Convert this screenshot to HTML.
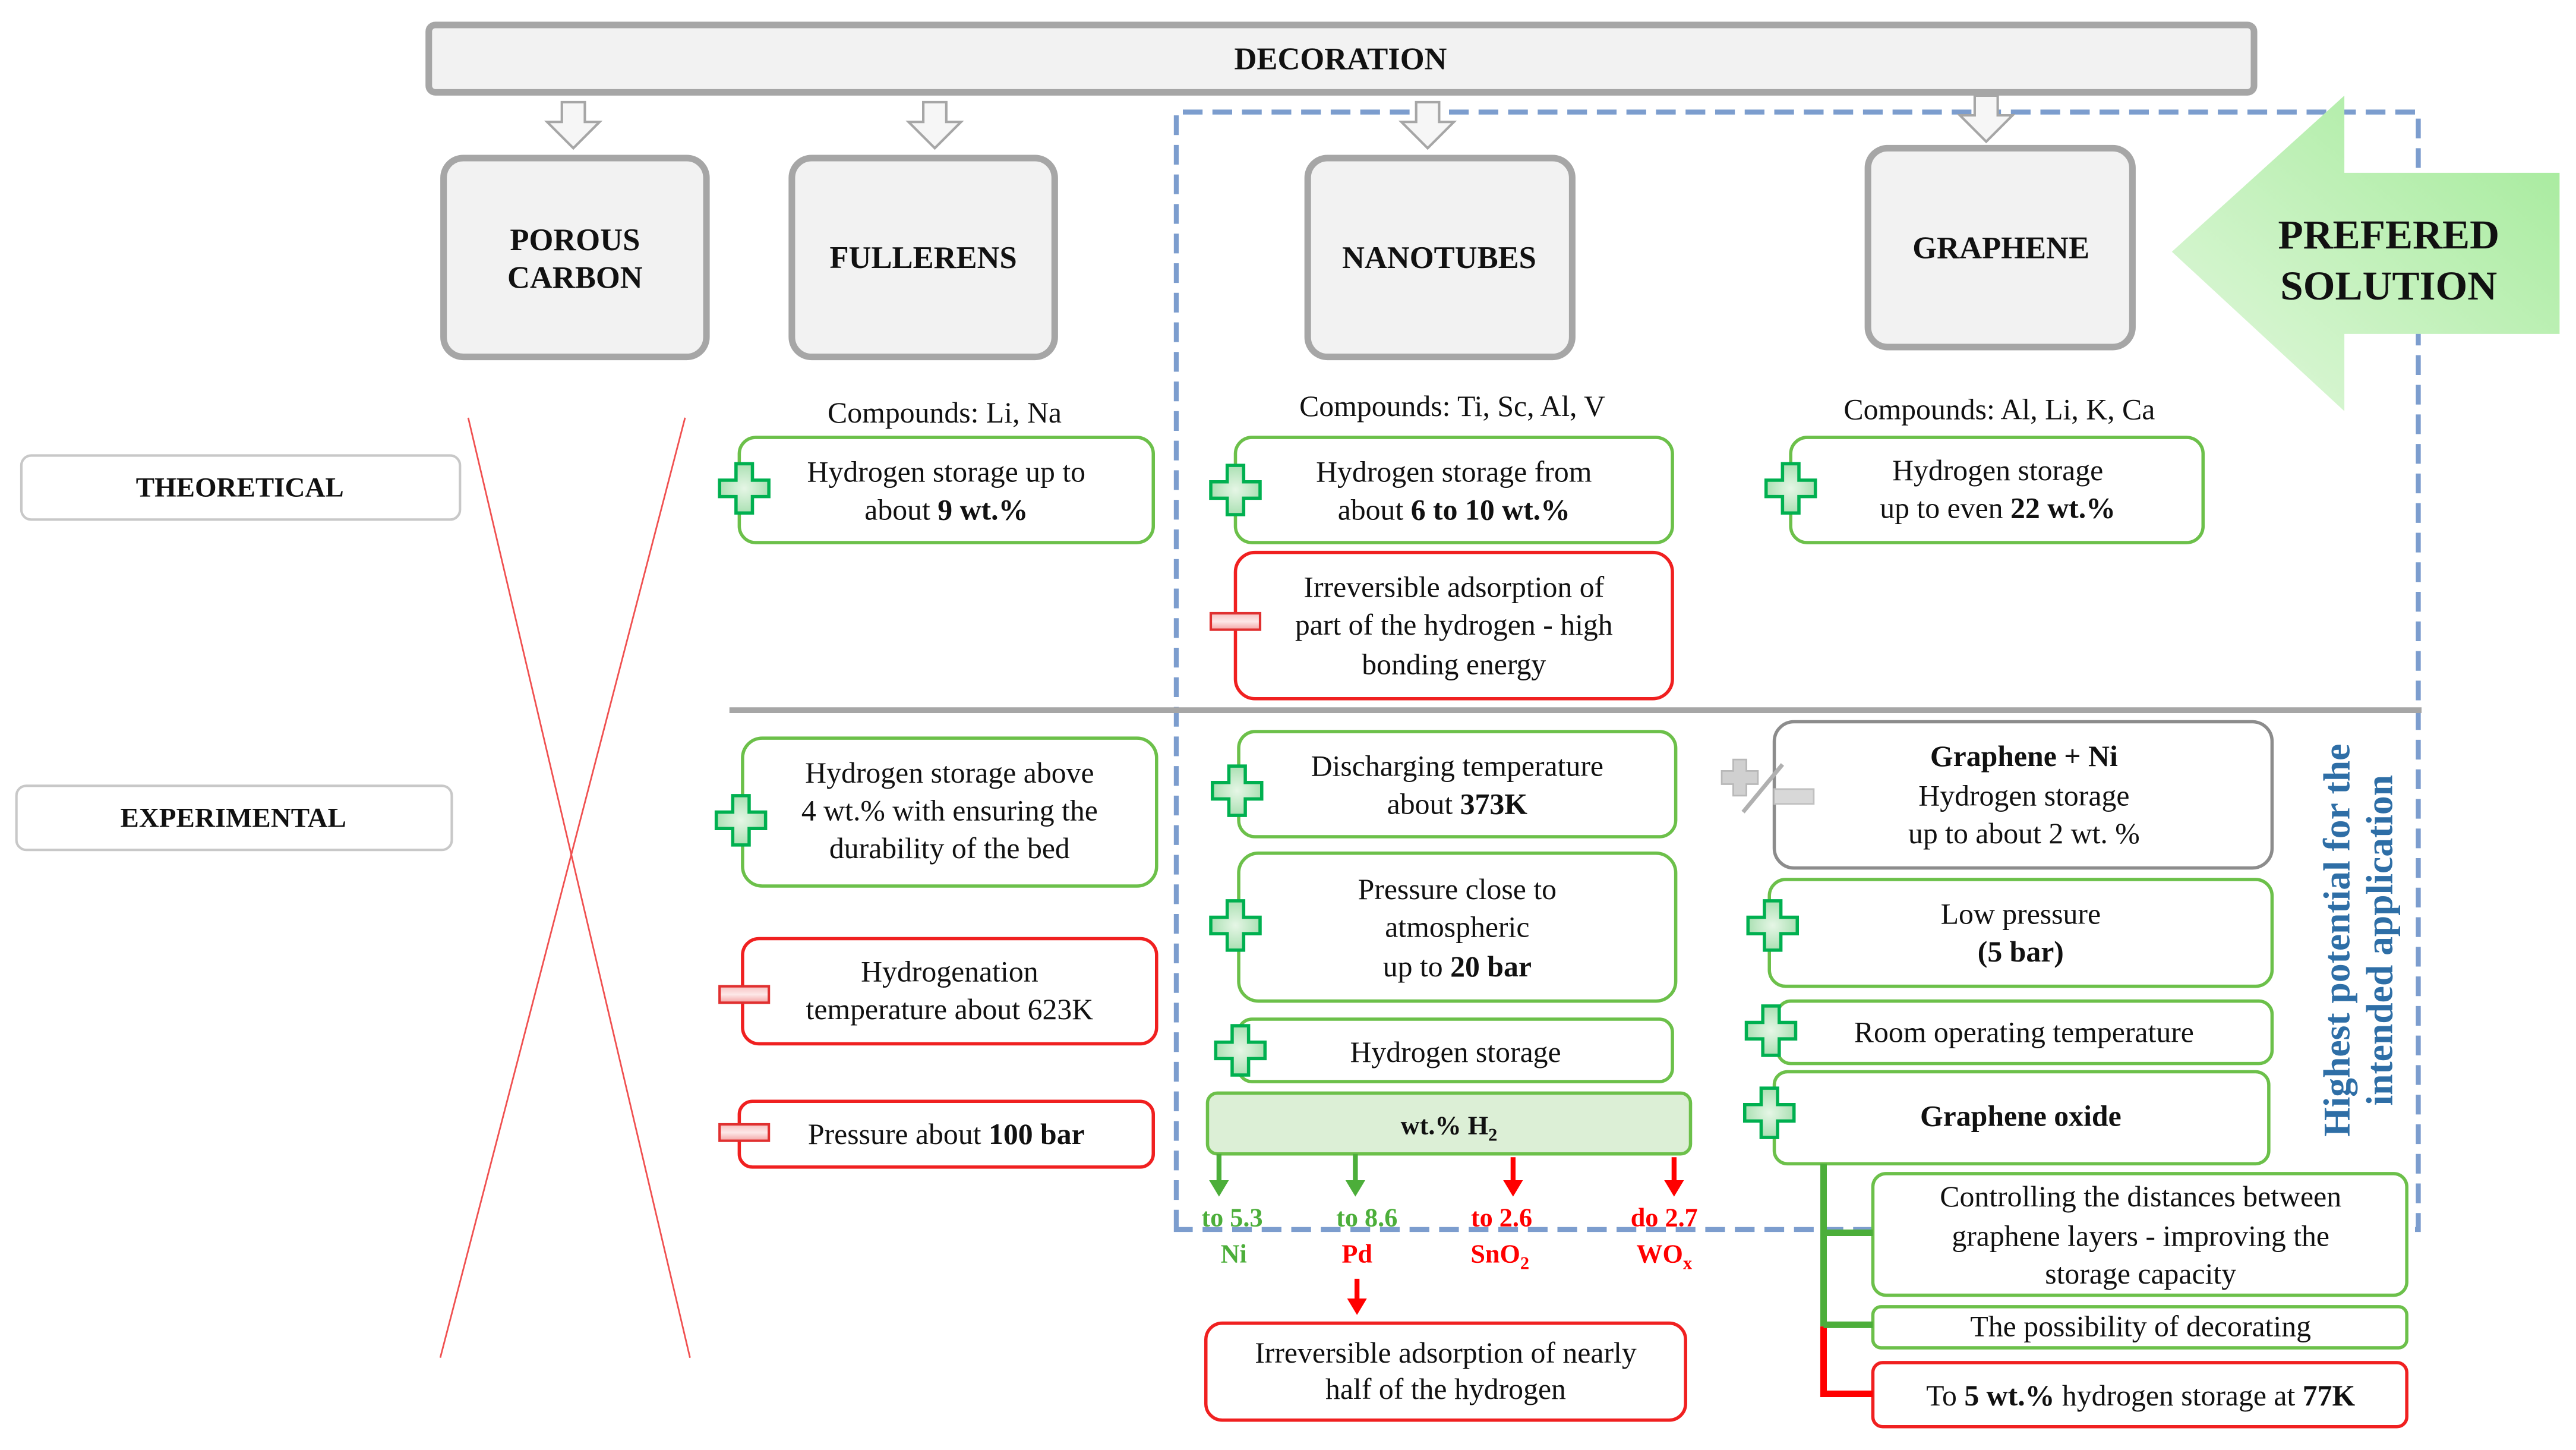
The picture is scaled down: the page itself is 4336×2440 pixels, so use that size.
<!DOCTYPE html>
<html><head><meta charset="utf-8"><style>
html,body{margin:0;padding:0;background:#fff;}
svg{display:block;}
text{font-family:"Liberation Serif",serif;fill:#111;}
</style></head><body>
<svg width="4336" height="2440" viewBox="0 0 1568 882" xmlns="http://www.w3.org/2000/svg">
<defs>
<radialGradient id="pg" cx="50%" cy="50%" r="60%"><stop offset="0" stop-color="#e6f6e6"/><stop offset="1" stop-color="#9fdca9"/></radialGradient>
<linearGradient id="mg" x1="0" y1="0" x2="0" y2="1"><stop offset="0" stop-color="#f6c0c0"/><stop offset="0.5" stop-color="#fde8e8"/><stop offset="1" stop-color="#f3a5a5"/></linearGradient>
<linearGradient id="ag" x1="0" y1="1" x2="1" y2="0"><stop offset="0" stop-color="#e3f8de"/><stop offset="1" stop-color="#a2ea98"/></linearGradient>
<g id="plus"><path d="M-5,-15 h10 v10 h10 v10 h-10 v10 h-10 v-10 h-10 v-10 h10 z" fill="url(#pg)" stroke="#00b050" stroke-width="2"/></g>
<g id="minus"><rect x="-15" y="-5" width="30" height="10" fill="url(#mg)" stroke="#e03030" stroke-width="1.5"/></g>
<g id="darr"><path d="M-7,0 h14 v12 h9 l-16,16 l-16,-16 h9 z" fill="#f6f6f6" stroke="#a6a6a6" stroke-width="1.5"/></g>
</defs>

<rect x="261" y="15" width="1111" height="41" rx="4" fill="#f2f2f2" stroke="#a6a6a6" stroke-width="4"/>
<text x="816" y="42" font-size="19" font-weight="bold" text-anchor="middle">DECORATION</text>

<path d="M716,748 V68 H1472 V748 Z" fill="none" stroke="#7c9dce" stroke-width="3" stroke-dasharray="12,6"/>

<use href="#darr" x="349" y="62"/>
<use href="#darr" x="569" y="62"/>
<use href="#darr" x="869" y="62"/>
<use href="#darr" x="1209" y="58"/>

<g fill="#f2f2f2" stroke="#a6a6a6" stroke-width="4">
<rect x="270" y="96" width="160" height="121" rx="12"/>
<rect x="482" y="96" width="160" height="121" rx="12"/>
<rect x="796" y="96" width="161" height="121" rx="12"/>
<rect x="1137" y="90" width="161" height="121" rx="12"/>
</g>
<g font-size="19" font-weight="bold" text-anchor="middle">
<text x="350" y="152">POROUS</text><text x="350" y="175">CARBON</text>
<text x="562" y="163">FULLERENS</text>
<text x="876" y="163">NANOTUBES</text>
<text x="1218" y="157">GRAPHENE</text>
</g>

<path d="M1322,153 L1427,58 V105 H1558 V203 H1427 V250 Z" fill="url(#ag)"/>
<g font-size="25" font-weight="bold" text-anchor="middle">
<text x="1454" y="151">PREFERED</text><text x="1454" y="182">SOLUTION</text>
</g>

<rect x="13" y="277" width="267" height="39" rx="6" fill="#fff" stroke="#c8c8c8" stroke-width="1.5"/>
<text x="146" y="302" font-size="17" font-weight="bold" text-anchor="middle">THEORETICAL</text>
<rect x="10" y="478" width="265" height="39" rx="6" fill="#fff" stroke="#c8c8c8" stroke-width="1.5"/>
<text x="142" y="503" font-size="17" font-weight="bold" text-anchor="middle">EXPERIMENTAL</text>

<line x1="285" y1="254" x2="420" y2="826" stroke="#f05050" stroke-width="1"/>
<line x1="417" y1="254" x2="268" y2="826" stroke="#f05050" stroke-width="1"/>

<line x1="444" y1="432" x2="1474" y2="432" stroke="#a6a6a6" stroke-width="3.5"/>

<g font-size="18" text-anchor="middle">
<text x="575" y="257">Compounds:  Li, Na</text>
<text x="884" y="253">Compounds:  Ti, Sc, Al, V</text>
<text x="1217" y="255">Compounds:  Al, Li, K, Ca</text>
</g>

<g fill="#fff" stroke-width="2">
<rect x="450" y="266" width="252" height="64" rx="10" stroke="#6cc04a"/>
<rect x="752" y="266" width="266" height="64" rx="10" stroke="#6cc04a"/>
<rect x="752" y="336" width="266" height="89" rx="12" stroke="#f02020"/>
<rect x="1090" y="266" width="251" height="64" rx="10" stroke="#6cc04a"/>
<rect x="452" y="449" width="252" height="90" rx="12" stroke="#6cc04a"/>
<rect x="452" y="571" width="252" height="64" rx="10" stroke="#f02020"/>
<rect x="450" y="670" width="252" height="40" rx="8" stroke="#f02020"/>
<rect x="754" y="445" width="266" height="64" rx="10" stroke="#6cc04a"/>
<rect x="754" y="519" width="266" height="90" rx="12" stroke="#6cc04a"/>
<rect x="754" y="620" width="264" height="38" rx="8" stroke="#6cc04a"/>
<rect x="735" y="665" width="294" height="37" rx="6" fill="#dcefd6" stroke="#6cc04a"/>
<rect x="734" y="805" width="292" height="59" rx="10" stroke="#f02020"/>
<rect x="1080" y="439" width="303" height="89" rx="12" stroke="#8c8c8c"/>
<rect x="1077" y="535" width="306" height="65" rx="10" stroke="#6cc04a"/>
<rect x="1082" y="609" width="301" height="38" rx="8" stroke="#6cc04a"/>
<rect x="1080" y="652" width="301" height="56" rx="8" stroke="#6cc04a"/>
<rect x="1140" y="714" width="325" height="74" rx="8" stroke="#6cc04a"/>
<rect x="1140" y="795" width="325" height="25" rx="5" stroke="#6cc04a"/>
<rect x="1140" y="829" width="325" height="39" rx="6" stroke="#f02020"/>
</g>

<line x1="1110" y1="708" x2="1110" y2="807" stroke="#4cae3a" stroke-width="4"/>
<line x1="1110" y1="807" x2="1110" y2="850" stroke="#f00" stroke-width="4"/>
<line x1="1110" y1="750" x2="1140" y2="750" stroke="#4cae3a" stroke-width="4"/>
<line x1="1110" y1="806" x2="1140" y2="806" stroke="#4cae3a" stroke-width="4"/>
<line x1="1108" y1="848" x2="1140" y2="848" stroke="#f00" stroke-width="4"/>

<g stroke-width="3">
<line x1="742" y1="702" x2="742" y2="720" stroke="#4cae3a"/><path d="M736,718 h12 l-6,10 z" fill="#4cae3a"/>
<line x1="825" y1="702" x2="825" y2="720" stroke="#4cae3a"/><path d="M819,718 h12 l-6,10 z" fill="#4cae3a"/>
<line x1="921" y1="704" x2="921" y2="720" stroke="#f00"/><path d="M915,718 h12 l-6,10 z" fill="#f00"/>
<line x1="1019" y1="704" x2="1019" y2="720" stroke="#f00"/><path d="M1013,718 h12 l-6,10 z" fill="#f00"/>
<line x1="826" y1="778" x2="826" y2="792" stroke="#f00"/><path d="M820,790 h12 l-6,10 z" fill="#f00"/>
</g>
<g font-size="16" font-weight="bold" text-anchor="middle">
<text x="750" y="746" style="fill:#4cae3a">to 5.3</text>
<text x="751" y="768" style="fill:#4cae3a">Ni</text>
<text x="832" y="746" style="fill:#4cae3a">to 8.6</text>
<text x="826" y="768" style="fill:#f00">Pd</text>
<text x="914" y="746" style="fill:#f00">to 2.6</text>
<text x="913" y="768" style="fill:#f00">SnO<tspan font-size="11" dy="4">2</tspan></text>
<text x="1013" y="746" style="fill:#f00">do 2.7</text>
<text x="1013" y="768" style="fill:#f00">WO<tspan font-size="11" dy="4">x</tspan></text>
</g>

<use href="#plus" x="453" y="297"/>
<use href="#plus" x="752" y="298"/>
<use href="#minus" x="752" y="378"/>
<use href="#plus" x="1090" y="297"/>
<use href="#plus" x="451" y="499"/>
<use href="#minus" x="453" y="605"/>
<use href="#minus" x="453" y="689"/>
<use href="#plus" x="753" y="481"/>
<use href="#plus" x="752" y="563"/>
<use href="#plus" x="755" y="639"/>
<use href="#plus" x="1079" y="563"/>
<use href="#plus" x="1078" y="627"/>
<use href="#plus" x="1077" y="677"/>
<g>
<path d="M1055,462 h8 v7 h7 v8 h-7 v7 h-8 v-7 h-7 v-8 h7 z" fill="#d0d0d0" stroke="#b8b8b8" stroke-width="1"/>
<line x1="1061" y1="494" x2="1085" y2="465" stroke="#b0b0b0" stroke-width="2.5"/>
<rect x="1080" y="480" width="24" height="9" fill="#d8d8d8" stroke="#c0c0c0" stroke-width="1"/>
</g>

<g font-size="18" text-anchor="middle">
<text x="576" y="293">Hydrogen storage up to</text>
<text x="576" y="316">about <tspan font-weight="bold">9 wt.%</tspan></text>
<text x="885" y="293">Hydrogen storage from</text>
<text x="885" y="316">about <tspan font-weight="bold">6 to 10 wt.%</tspan></text>
<text x="885" y="363">Irreversible adsorption of</text>
<text x="885" y="386">part of the hydrogen - high</text>
<text x="885" y="410">bonding energy</text>
<text x="1216" y="292">Hydrogen storage</text>
<text x="1216" y="315">up to even <tspan font-weight="bold">22 wt.%</tspan></text>
<text x="578" y="476">Hydrogen storage above</text>
<text x="578" y="499">4 wt.% with ensuring the</text>
<text x="578" y="522">durability of the bed</text>
<text x="578" y="597">Hydrogenation</text>
<text x="578" y="620">temperature about 623K</text>
<text x="576" y="696">Pressure about <tspan font-weight="bold">100 bar</tspan></text>
<text x="887" y="472">Discharging temperature</text>
<text x="887" y="495">about <tspan font-weight="bold">373K</tspan></text>
<text x="887" y="547">Pressure close to</text>
<text x="887" y="570">atmospheric</text>
<text x="887" y="594">up to <tspan font-weight="bold">20 bar</tspan></text>
<text x="886" y="646">Hydrogen storage</text>
<text x="882" y="690" font-weight="bold" font-size="16">wt.% H<tspan font-size="11" dy="4">2</tspan></text>
<text x="880" y="829">Irreversible adsorption of nearly</text>
<text x="880" y="851">half of the hydrogen</text>
<text x="1232" y="466" font-weight="bold">Graphene + Ni</text>
<text x="1232" y="490">Hydrogen storage</text>
<text x="1232" y="513">up to about 2 wt. %</text>
<text x="1230" y="562">Low pressure</text>
<text x="1230" y="585" font-weight="bold">(5 bar)</text>
<text x="1232" y="634">Room operating temperature</text>
<text x="1230" y="685" font-weight="bold">Graphene oxide</text>
<text x="1303" y="734">Controlling the distances between</text>
<text x="1303" y="758">graphene layers - improving the</text>
<text x="1303" y="781">storage capacity</text>
<text x="1303" y="813">The possibility of decorating</text>
<text x="1303" y="855">To <tspan font-weight="bold">5 wt.%</tspan> hydrogen storage at <tspan font-weight="bold">77K</tspan></text>
</g>

<g font-size="23" font-weight="bold" text-anchor="middle" transform="translate(1436,572) rotate(-90)">
<text x="0" y="-6" style="fill:#2e6ea6">Highest potential for the</text>
<text x="0" y="20" style="fill:#2e6ea6">intended application</text>
</g>
</svg>
</body></html>
